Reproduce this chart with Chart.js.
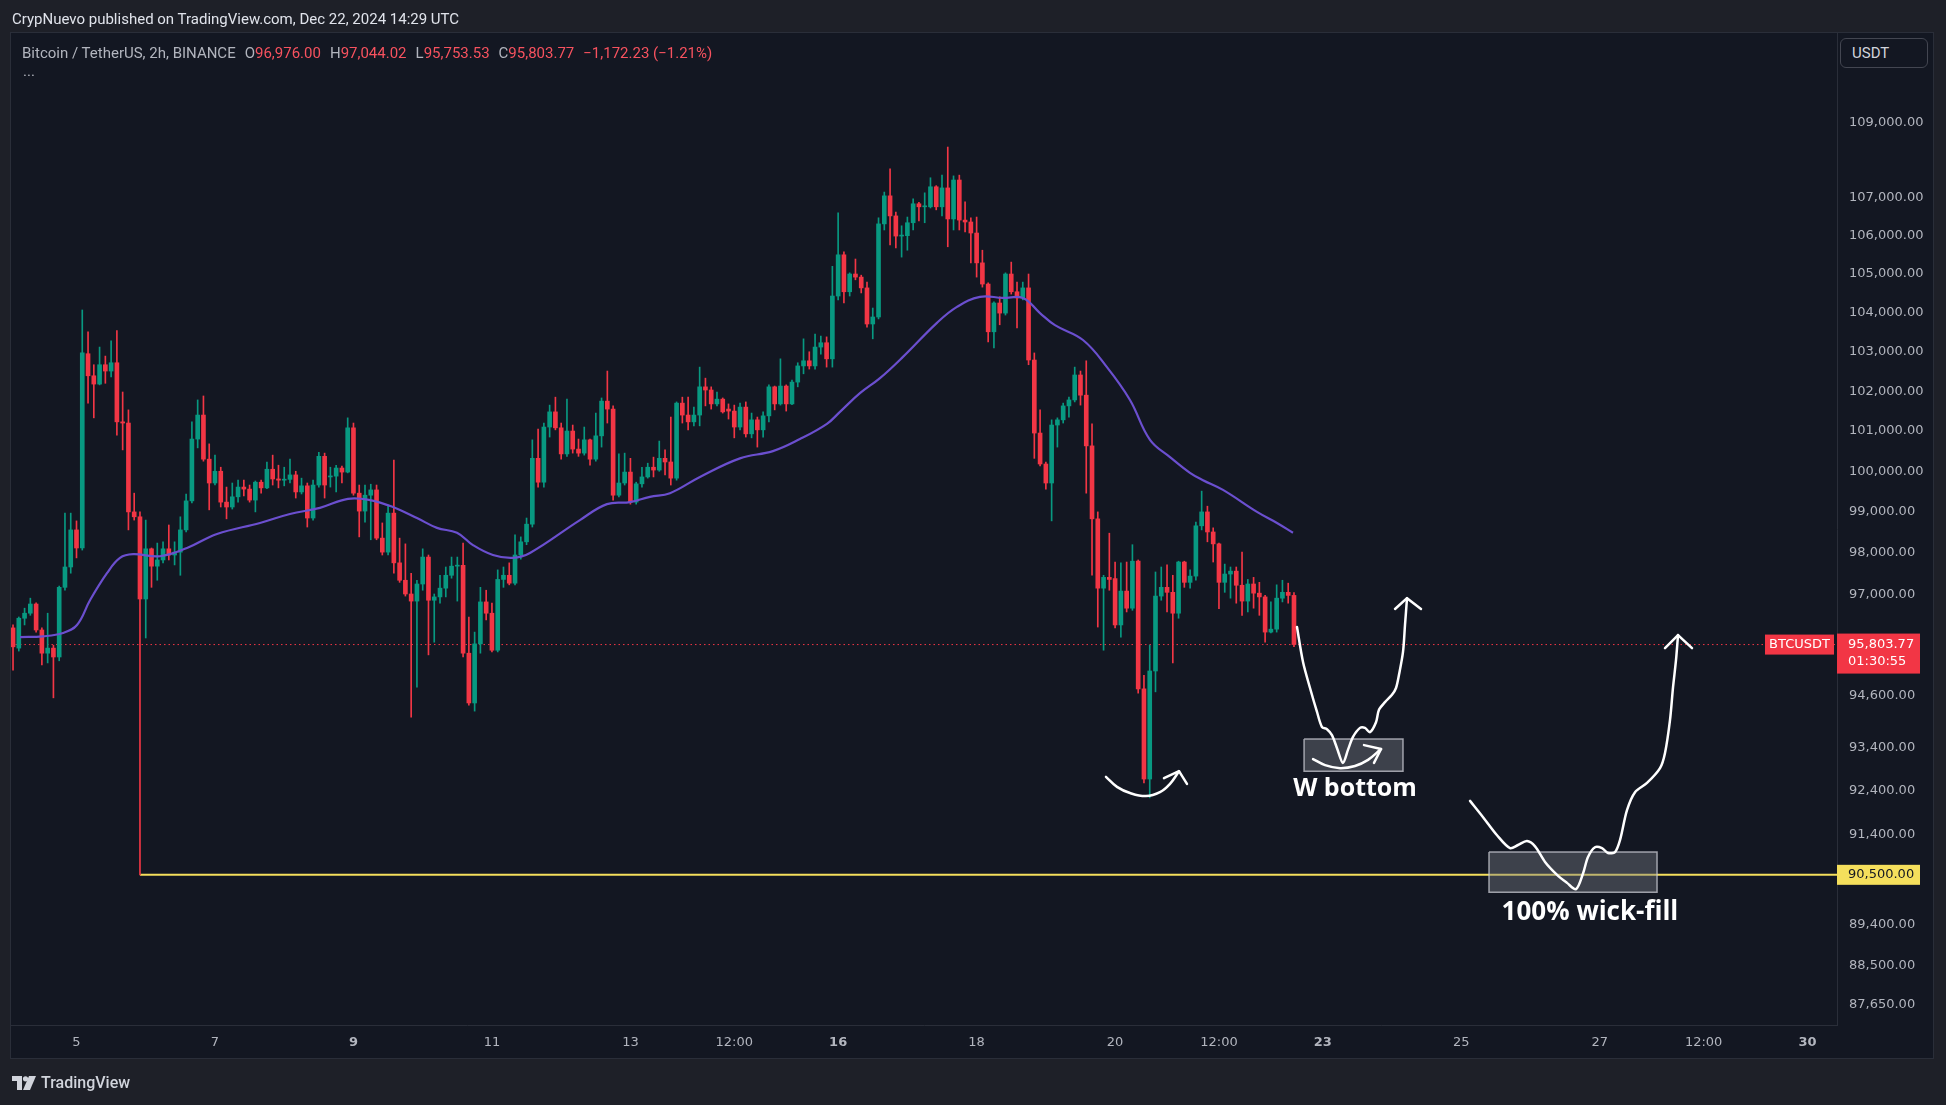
<!DOCTYPE html>
<html>
<head>
<meta charset="utf-8">
<title>Bitcoin / TetherUS, 2h, BINANCE</title>
<script src="https://cdn.jsdelivr.net/npm/chart.js@4.4.1/dist/chart.umd.min.js"></script>
<style>
  html, body { margin: 0; padding: 0; background: #1e2028; }
  #wrap { position: relative; width: 1946px; height: 1105px; overflow: hidden; }
  #chart { position: absolute; left: 0; top: 0; }
  .hdr { position: absolute; left: 12px; top: 10px; font: 15px Roboto, sans-serif; color: #e0e3eb; white-space: nowrap; }
  .legend { position: absolute; left: 22px; top: 44px; font: 15px Roboto, sans-serif; color: #b2b5be; white-space: nowrap; }
  .legend span.k { margin-left: 9px; }
  .legend span.v { color: #f7525f; }
  .dots { position: absolute; left: 23px; top: 62px; font: 15px Roboto, sans-serif; color: #b2b5be; }
  .usdt { position: absolute; left: 1840px; top: 38px; width: 88px; height: 30px; border: 1px solid #434651;
          border-radius: 6px; box-sizing: border-box; font: 15px Roboto, sans-serif; color: #d1d4dc;
          padding: 5px 0 0 11px; background: #131722; }
  .footer { position: absolute; left: 12px; top: 1073px; font: 500 16px Roboto, sans-serif; color: #d1d4dc; display: flex; align-items: center; }
  .footer svg { margin-right: 5px; }
</style>
</head>
<body>
<div id="wrap">
  <canvas id="chart" width="1946" height="1105"></canvas>
  <div class="hdr">CrypNuevo published on TradingView.com, Dec 22, 2024 14:29 UTC</div>
  <div class="legend" id="legend"></div>
  <div class="dots">...</div>
  <div class="usdt">USDT</div>
  <div class="footer">
    <svg width="24" height="14" viewBox="0 0 24 14"><path d="M0 0h10v14H5V5H0z" fill="#d1d4dc"/><circle cx="13.5" cy="2.8" r="2.6" fill="#d1d4dc"/><path d="M17 0h7l-6 14h-7z" fill="#d1d4dc"/></svg>
    TradingView
  </div>
</div>
<script>
// 2h candles, first one Dec 4 02:00 UTC, last one Dec 22 14:00 UTC (x axis = day of month)
var firstCandleDay = 4 + 2 / 24;
var candleStep = 2 / 24;

var opens = [
  96200,95720,96430,96550,96770,96150,95600,95720,95510,97170,
  97660,98560,98120,102950,102390,102180,102670,102510,102720,101230,
  101200,99000,98880,96890,98100,97680,97830,98100,97950,98020,
  98560,99270,100800,101400,100300,99710,100000,99240,99120,99370,
  99610,99560,99290,99730,99590,100050,99810,99780,99800,99910,
  99490,99640,98850,99660,100370,99860,99880,100080,99980,101080,
  99460,99020,99410,99540,98360,98020,98970,97760,97340,97010,
  96840,97250,97900,96860,96940,97150,97460,97680,97700,95600,
  94430,95820,96820,96550,95670,97360,97460,97270,97950,98270,
  98700,100320,99730,101100,101480,101080,100430,101000,100550,100450,
  100780,100300,100880,101750,101550,99410,99710,99980,99240,99690,
  99860,100100,100030,100320,100230,99830,101700,101400,101230,101400,
  102110,102030,101680,101800,101550,101500,101100,101600,100930,101280,
  101030,101380,102110,101680,102130,101680,102230,102640,102770,102640,
  103120,103230,102820,104430,105500,104540,105000,104920,104640,103710,
  103890,106310,107050,106520,105990,106000,106340,106840,106760,106760,
  107290,106760,107260,106440,107470,106410,106360,106070,105290,104740,
  103510,104250,103990,105000,104540,104380,104640,102790,100950,100180,
  99710,101150,101280,101630,101780,102410,101900,100630,98830,97150,
  97410,97380,96270,97080,96670,97800,94760,92670,95180,96960,
  97170,97050,96550,97780,97290,97440,98660,99000,98510,98220,
  97290,97490,97560,97220,96840,97250,97030,96940,96100,96170,
  96910,97050,96976.00
];
var highs = [
  96270,96460,96670,96910,96800,96200,96550,95790,97200,98970,
  98970,98780,104070,103510,102670,103120,102890,103280,103540,101980,
  101530,99460,99000,98800,98120,98240,98270,98680,98270,98880,
  99440,101230,101780,101880,100680,100400,100100,99610,99710,99780,
  99780,99660,99760,99780,100230,100400,100150,100100,100300,100000,
  99830,99710,99780,100470,100450,100100,100150,100130,101330,101200,
  99660,99660,99680,99660,98730,99170,100280,98360,98220,97510,
  97340,98100,97950,97010,97460,97660,97900,97900,98240,96460,
  96100,97170,97100,96790,97590,97660,97760,98440,98390,98850,
  100780,101050,101200,101650,101850,101200,101800,101150,100800,101100,
  100800,101450,101830,102510,101630,100430,100450,100320,99730,100100,
  100200,100350,100750,100530,101350,101730,101850,101850,101600,102610,
  102330,102110,101980,101830,101680,101650,101700,101730,101450,101350,
  101480,102160,102130,102820,102160,102280,102720,103330,103000,103450,
  103400,103380,105200,106600,105580,105030,105390,104970,104790,104120,
  106470,107150,107770,106620,106260,106490,106970,106880,107130,107530,
  107320,107600,108350,107580,107600,106890,106470,106490,105620,104770,
  104280,104410,105030,105310,104790,104790,105000,102970,101530,100230,
  101280,101330,101700,101850,102610,102510,102770,101180,99000,97460,
  98480,97780,97760,97780,98200,97830,95080,95790,97540,97660,
  97710,97460,97800,97800,97590,98750,99510,99140,98610,98240,
  97730,97660,97660,98020,97360,97410,97290,96980,96820,97230,
  97340,97270,97044.02
];
var lows = [
  95200,95650,96270,96500,96100,95320,95370,94550,95420,97100,
  97510,97880,98070,101700,101330,102160,102200,102360,100900,100530,
  98560,98800,90500,95960,97170,97340,97760,97830,97710,97460,
  98510,99220,100580,100250,99050,99660,99120,98830,99070,99240,
  99390,99240,99000,99460,99570,99660,99590,99640,99710,99340,
  99440,98630,98800,99610,99340,99610,99490,99710,99960,99410,
  98390,98750,98320,98320,97950,97950,97510,97290,96960,94100,
  94800,97100,95560,95860,96790,96940,97390,96840,95510,94380,
  94240,95600,96390,95630,95630,97170,97230,97230,97850,98200,
  98630,99610,99610,100850,101030,100300,100370,100450,100370,100400,
  100150,100250,100600,101200,99290,99370,99660,99190,99190,99610,
  99830,99860,100000,99910,99660,99780,101200,101030,101130,101130,
  101630,101550,101630,101450,101300,100830,101030,100850,100830,100600,
  100850,101230,101530,101650,101500,101660,102110,102440,102560,102560,
  102940,102610,102610,104330,104250,104430,104850,104510,103630,103330,
  103840,106150,105760,105680,105440,105620,106150,106390,106340,106730,
  106680,106520,105710,106150,106150,106100,105290,104920,104660,103250,
  103100,103690,103940,104480,103610,104330,102670,100320,100130,99560,
  98780,100600,101200,101350,101730,101650,99460,97460,96220,95670,
  97100,96200,95980,96580,96620,94660,92580,92240,94690,96860,
  96580,95370,96430,97170,97150,97340,98560,98270,97780,96660,
  97050,96910,96790,96500,96580,96670,96500,95860,96080,96100,
  96820,96790,95753.53
];
var closes = [
  95750,96430,96550,96770,96150,95600,95720,95510,97170,97660,
  98560,98120,102970,102390,102180,102670,102510,102720,101230,101200,
  99000,98880,96890,98100,97680,97830,98100,97950,98020,98560,
  99270,100800,101400,100300,99710,100000,99240,99120,99370,99610,
  99560,99290,99730,99590,100050,99810,99780,99800,99910,99490,
  99640,98850,99660,100370,99660,99880,100080,99980,101080,99460,
  99020,99410,99540,98360,98020,98970,97760,97340,97010,96840,
  97250,97900,96860,96940,97150,97460,97680,97700,95600,94430,
  95820,96820,96550,95670,97360,97460,97270,97950,98270,98700,
  100320,99730,101100,101480,101080,100430,101000,100550,100450,100780,
  100300,100880,101750,101550,99410,99710,99980,99240,99690,99860,
  100100,100030,100320,100230,99830,101700,101400,101230,101400,102110,
  102030,101680,101800,101480,101500,101100,101600,100930,101280,101030,
  101380,102110,101680,102130,101680,102230,102640,102770,102640,103120,
  103230,102820,104430,105500,104540,105000,104920,104640,103710,103890,
  106310,107050,106520,105990,106010,106340,106840,106760,106780,107290,
  106760,107260,106440,107470,106410,106360,106070,105290,104740,103510,
  104250,103990,105000,104540,104380,104640,102790,100950,100180,99710,
  101150,101280,101630,101780,102410,101900,100630,98830,97150,97410,
  97360,96270,97080,96670,97800,94760,92670,95180,96960,97170,
  97050,96550,97780,97290,97440,98660,99000,98510,98220,97290,
  97490,97560,97220,96840,97250,97030,96940,96100,96170,96910,
  97050,96976.00,95803.77
];

// moving average (purple)
var maDays = [4.184,4.516,4.805,5.007,5.195,5.440,5.628,5.816,6.206,6.596,7.029,7.650,8.083,8.516,8.921,
  9.238,9.570,9.917,10.206,10.495,10.726,11.014,11.303,11.549,12.271,12.661,12.993,13.282,13.571,14.004,
  14.582,15.058,15.448,15.838,16.026,16.315,16.604,16.936,17.427,17.716,18.048,18.380,18.669,18.915,19.131,
  19.536,19.882,20.215,20.504,20.793,21.081,21.269,21.558,22.049,22.338,22.569];
var maValues = [95980,96000,96080,96270,96860,97510,97880,97970,97920,98120,98460,98730,98950,99100,99320,
  99290,99120,98850,98610,98490,98190,97950,97880,98000,98800,99190,99240,99370,99460,99860,
  100320,100500,100800,101180,101480,101950,102330,102870,103740,104150,104410,104380,104380,103990,103680,
  103300,102610,101780,100780,100350,99960,99780,99540,99000,98730,98490];

// hand drawn annotations (day, price)
var arcDays = [19.868,20.027,20.215,20.446,20.648,20.793,20.923];
var arcPrices = [92720,92490,92350,92280,92370,92560,92850];
var arcHeadDays = [20.706,20.923,21.038];
var arcHeadPrices = [92690,92850,92560];

var wPathDays = [22.627,22.714,22.815,22.916,22.988,23.060,23.132,23.205,23.291,23.363,23.436,23.537,
  23.609,23.681,23.768,23.811,23.898,23.999,24.057,24.100,24.158,24.187,24.216];
var wPathPrices = [96220,95390,94780,94220,93870,93820,93680,93380,93040,93340,93640,93850,
  93850,93750,93980,94270,94450,94620,94780,95090,95630,96270,96910];
var wHeadDays = [24.043,24.216,24.418];
var wHeadPrices = [96650,96910,96650];
var wBoxDays = [22.729,24.158];
var wBoxPrices = [93590,92850];
var wArcDays = [22.859,23.032,23.249,23.465,23.653,23.841];
var wArcPrices = [93130,92990,92920,92970,93110,93360];
var wArcHeadDays = [23.595,23.841,23.739];
var wArcHeadPrices = [93450,93360,93040];

var fillPathDays = [25.126,25.314,25.516,25.704,25.819,25.949,26.065,26.209,26.383,26.527,26.657,26.758,
  26.830,26.931,27.032,27.119,27.220,27.292,27.393,27.509,27.682,27.870,27.942,28.014,28.058,28.101,28.130];
var fillPathPrices = [92170,91800,91390,91100,91170,91260,91140,90790,90500,90320,90180,90530,
  90900,91120,91100,90990,91010,91280,91960,92370,92580,92920,93270,94030,94800,95440,96030];
var fillHeadDays = [27.942,28.130,28.332];
var fillHeadPrices = [95720,96030,95720];
var fillBoxDays = [25.400,27.827];
var fillBoxPrices = [91010,90110];

var notes = [
  { text: "W bottom", day: 23.465, price: 92440, size: 25 },
  { text: "100% wick-fill", day: 26.858, price: 89650, size: 26 }
];

var wickFillLevel = 90500;
var countdown = "01:30:55";

// axes
var xMin = 4.054, xMax = 30.426;
var yMin = 87200, yMax = 111450;
var xTickDays = [5, 7, 9, 11, 13, 14.5, 16, 18, 20, 21.5, 23, 25, 27, 28.5, 30];
var xTickLabels = ["5", "7", "9", "11", "13", "12:00", "16", "18", "20", "12:00", "23", "25", "27", "12:00", "30"];
var boldDays = [9, 16, 23, 30];
var yTickValues = [109000, 107000, 106000, 105000, 104000, 103000, 102000, 101000, 100000,
  99000, 98000, 97000, 94600, 93400, 92400, 91400, 89400, 88500, 87650];

var upColor = "#089981";
var downColor = "#f23645";
var axisText = "#b2b5be";

function fmt(v) {
  return v.toLocaleString("en-US", { minimumFractionDigits: 2, maximumFractionDigits: 2 });
}
function points(days, prices) {
  return days.map(function (d, i) { return { x: d, y: prices[i] }; });
}
function boxPoints(days, prices) {
  return [
    { x: days[0], y: prices[0] }, { x: days[1], y: prices[0] },
    { x: days[1], y: prices[1] }, { x: days[0], y: prices[1] },
    { x: days[0], y: prices[0] }
  ];
}

var candleDays = opens.map(function (_, i) { return firstCandleDay + i * candleStep; });
var candleColors = closes.map(function (c, i) { return c >= opens[i] ? upColor : downColor; });
var lastIdx = closes.length - 1;
var lastClose = closes[lastIdx];
var wickFillDay = candleDays[lows.indexOf(Math.min.apply(null, lows))];

// legend line from the last candle
var change = lastClose - closes[lastIdx - 1];
var pct = change / closes[lastIdx - 1] * 100;
document.getElementById("legend").innerHTML =
  "Bitcoin / TetherUS, 2h, BINANCE" +
  "<span class='k'>O<span class='v'>" + fmt(opens[lastIdx]) + "</span></span>" +
  "<span class='k'>H<span class='v'>" + fmt(highs[lastIdx]) + "</span></span>" +
  "<span class='k'>L<span class='v'>" + fmt(lows[lastIdx]) + "</span></span>" +
  "<span class='k'>C<span class='v'>" + fmt(lastClose) + "</span></span>" +
  "<span class='k v'>" + (change < 0 ? "\u2212" : "+") + fmt(Math.abs(change)) +
  " (" + (pct < 0 ? "\u2212" : "+") + Math.abs(pct).toFixed(2) + "%)</span>";

// panel background
var panelBg = {
  id: "panelBg",
  beforeDraw: function (chart) {
    var ctx = chart.ctx;
    ctx.save();
    ctx.fillStyle = "#1e2028";
    ctx.fillRect(0, 0, chart.width, chart.height);
    ctx.fillStyle = "#131722";
    ctx.fillRect(11, 33, 1922, 1025);
    ctx.strokeStyle = "#2a2e39";
    ctx.lineWidth = 1;
    ctx.strokeRect(10.5, 32.5, 1923, 1026);
    ctx.restore();
  }
};

// annotation texts
var noteText = {
  id: "noteText",
  afterDatasetsDraw: function (chart) {
    var ctx = chart.ctx, x = chart.scales.x, y = chart.scales.y;
    ctx.save();
    ctx.fillStyle = "#ffffff";
    ctx.textAlign = "center";
    ctx.textBaseline = "middle";
    notes.forEach(function (n) {
      ctx.font = "bold " + n.size + "px 'Open Sans'";
      ctx.fillText(n.text, x.getPixelForValue(n.day), y.getPixelForValue(n.price));
    });
    ctx.restore();
  }
};

// price tags on the right scale
var priceTags = {
  id: "priceTags",
  afterDraw: function (chart) {
    var ctx = chart.ctx, area = chart.chartArea, y = chart.scales.y;
    var yp = y.getPixelForValue(lastClose);
    var yy = y.getPixelForValue(wickFillLevel);
    ctx.save();
    ctx.font = "13px 'DejaVu Sans'";
    ctx.textBaseline = "middle";

    ctx.fillStyle = downColor;
    ctx.fillRect(area.right, yp - 11, 83, 40);
    ctx.fillRect(area.right - 72, yp - 10, 69, 20);
    ctx.fillStyle = "#ffffff";
    ctx.textAlign = "left";
    ctx.fillText(fmt(lastClose), area.right + 11, yp);
    ctx.fillText(countdown, area.right + 11, yp + 17);
    ctx.textAlign = "center";
    ctx.fillText("BTCUSDT", area.right - 37.5, yp);

    ctx.fillStyle = "#f5df5c";
    ctx.fillRect(area.right, yy - 10, 83, 20);
    ctx.fillStyle = "#131722";
    ctx.textAlign = "left";
    ctx.fillText(fmt(wickFillLevel), area.right + 11, yy);
    ctx.restore();
  }
};

function drawing(days, prices, tension) {
  return {
    type: "line",
    data: points(days, prices),
    borderColor: "#ffffff",
    borderWidth: 2.5,
    pointRadius: 0,
    tension: tension,
    borderCapStyle: "round",
    borderJoinStyle: "round",
    order: 1
  };
}
function box(days, prices) {
  return {
    type: "line",
    data: boxPoints(days, prices),
    borderColor: "rgba(200,202,210,0.75)",
    borderWidth: 1.5,
    backgroundColor: "rgba(120,123,134,0.42)",
    fill: "shape",
    pointRadius: 0,
    tension: 0,
    order: 3
  };
}

var ctx = document.getElementById("chart").getContext("2d");
var btcChart = new Chart(ctx, {
  type: "bar",
  data: {
    datasets: [
      {
        // current price dotted line
        type: "line",
        data: [{ x: xMin, y: lastClose }, { x: xMax, y: lastClose }],
        borderColor: downColor,
        borderWidth: 1,
        borderDash: [1.5, 3],
        pointRadius: 0,
        order: 12
      },
      {
        // 90,500 level
        type: "line",
        data: [{ x: wickFillDay, y: wickFillLevel }, { x: xMax, y: wickFillLevel }],
        borderColor: "#f5df5c",
        borderWidth: 2,
        pointRadius: 0,
        order: 11
      },
      {
        // wicks
        data: candleDays.map(function (d, i) { return { x: d, y: [lows[i], highs[i]] }; }),
        backgroundColor: candleColors,
        barThickness: 1,
        grouped: false,
        order: 9
      },
      {
        // bodies
        data: candleDays.map(function (d, i) { return { x: d, y: [opens[i], closes[i]] }; }),
        backgroundColor: candleColors,
        barThickness: 4,
        minBarLength: 1,
        grouped: false,
        order: 8
      },
      {
        type: "line",
        data: points(maDays, maValues),
        borderColor: "#6b4fcf",
        borderWidth: 2.2,
        pointRadius: 0,
        tension: 0.4,
        order: 6
      },
      box(wBoxDays, wBoxPrices),
      box(fillBoxDays, fillBoxPrices),
      drawing(arcDays, arcPrices, 0.4),
      drawing(arcHeadDays, arcHeadPrices, 0),
      drawing(wPathDays, wPathPrices, 0.3),
      drawing(wHeadDays, wHeadPrices, 0),
      drawing(wArcDays, wArcPrices, 0.4),
      drawing(wArcHeadDays, wArcHeadPrices, 0),
      drawing(fillPathDays, fillPathPrices, 0.3),
      drawing(fillHeadDays, fillHeadPrices, 0)
    ]
  },
  options: {
    responsive: false,
    devicePixelRatio: 1,
    animation: false,
    events: [],
    layout: { padding: { left: 11, top: 33, right: 13, bottom: 47 } },
    plugins: {
      legend: { display: false },
      tooltip: { enabled: false }
    },
    scales: {
      x: {
        type: "linear",
        min: xMin,
        max: xMax,
        offset: false,
        grid: { display: false, drawTicks: false },
        border: { display: true, color: "#2a2e39" },
        afterFit: function (scale) { scale.height = 33; },
        afterBuildTicks: function (scale) {
          scale.ticks = xTickDays.map(function (v) { return { value: v }; });
        },
        ticks: {
          autoSkip: false,
          maxRotation: 0,
          padding: 10,
          color: axisText,
          font: function (c) {
            var v = c.tick ? c.tick.value : 0;
            return { family: "'DejaVu Sans'", size: 13, weight: boldDays.indexOf(v) >= 0 ? "bold" : "normal" };
          },
          callback: function (value) {
            var i = xTickDays.indexOf(value);
            return i >= 0 ? xTickLabels[i] : "";
          }
        }
      },
      y: {
        type: "logarithmic",
        position: "right",
        min: yMin,
        max: yMax,
        grid: { display: false, drawTicks: false },
        border: { display: true, color: "#2a2e39" },
        afterFit: function (scale) { scale.width = 96; },
        afterBuildTicks: function (scale) {
          scale.ticks = yTickValues.map(function (v) { return { value: v }; });
        },
        ticks: {
          autoSkip: false,
          padding: 12,
          color: axisText,
          font: { family: "'DejaVu Sans'", size: 13 },
          callback: function (value) { return fmt(value); }
        }
      }
    }
  },
  plugins: [panelBg, noteText, priceTags]
});
</script>
</body>
</html>
